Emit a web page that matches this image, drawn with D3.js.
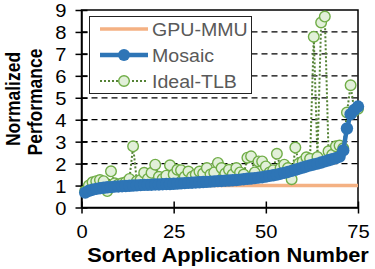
<!DOCTYPE html>
<html>
<head>
<meta charset="utf-8">
<script src="https://cdn.jsdelivr.net/npm/d3@7"></script>
<style>
  body { margin: 0; background: #fff; }
  text { font-family: "Liberation Sans", Arial, sans-serif; }
</style>
</head>
<body>
<div id="plot"></div>
<script>
// sorted application number (1..75)
var appNumbers = [1, 2, 3, 4, 5, 6, 7, 8, 9, 10, 11, 12, 13, 14, 15, 16, 17, 18, 19, 20,
    21, 22, 23, 24, 25, 26, 27, 28, 29, 30, 31, 32, 33, 34, 35, 36, 37, 38, 39, 40,
    41, 42, 43, 44, 45, 46, 47, 48, 49, 50, 51, 52, 53, 54, 55, 56, 57, 58, 59, 60,
    61, 62, 63, 64, 65, 66, 67, 68, 69, 70, 71, 72, 73, 74, 75];

var gpuMmu = [1, 1, 1, 1, 1, 1, 1, 1, 1, 1, 1, 1, 1, 1, 1, 1, 1, 1, 1, 1,
    1, 1, 1, 1, 1, 1, 1, 1, 1, 1, 1, 1, 1, 1, 1, 1, 1, 1, 1, 1,
    1, 1, 1, 1, 1, 1, 1, 1, 1, 1, 1, 1, 1, 1, 1, 1, 1, 1, 1, 1,
    1, 1, 1, 1, 1, 1, 1, 1, 1, 1, 1, 1, 1, 1, 1];

var mosaic = [0.68, 0.76, 0.81, 0.85, 0.88, 0.90, 0.92, 0.93, 0.95, 0.96,
    0.97, 0.98, 0.99, 1.00, 1.01, 1.02, 1.03, 1.03, 1.04, 1.05,
    1.05, 1.06, 1.07, 1.07, 1.08, 1.09, 1.10, 1.11, 1.12, 1.13,
    1.14, 1.15, 1.16, 1.17, 1.18, 1.19, 1.20, 1.21, 1.22, 1.23,
    1.24, 1.25, 1.27, 1.29, 1.31, 1.32, 1.34, 1.36, 1.38, 1.41,
    1.44, 1.47, 1.50, 1.54, 1.58, 1.62, 1.67, 1.72, 1.77, 1.82,
    1.87, 1.92, 1.96, 2.00, 2.05, 2.10, 2.15, 2.20, 2.25, 2.32,
    2.60, 3.60, 4.25, 4.45, 4.60];

var idealTlb = [0.75, 1.00, 1.15, 1.20, 1.25, 1.20, 0.75, 1.65, 1.10, 1.05,
    1.10, 1.15, 1.30, 2.79, 1.20, 1.25, 1.58, 1.30, 1.58, 1.95,
    1.40, 1.30, 1.45, 1.92, 1.50, 1.72, 1.70, 1.40, 1.64, 1.40,
    1.50, 1.64, 1.55, 1.80, 1.50, 1.60, 2.03, 1.80, 1.55, 1.72,
    1.50, 1.80, 1.60, 1.50, 2.27, 2.33, 1.60, 2.10, 2.10, 1.87,
    1.60, 1.70, 2.45, 1.80, 1.95, 1.80, 1.29, 2.73, 2.00, 2.10,
    2.29, 2.22, 7.78, 2.30, 8.43, 8.70, 2.56, 2.40, 2.79, 2.82,
    2.70, 4.33, 5.57, 4.40, 4.50];

var seriesNames = ["GPU-MMU", "Mosaic", "Ideal-TLB"];
var xTicks = [0, 25, 50, 75];
var yTicks = [0, 1, 2, 3, 4, 5, 6, 7, 8, 9];
var gridValues = [1, 2, 3, 4, 5, 6, 7, 8];

var width = 375;
var height = 269;
var plot = { left: 81.5, right: 358, top: 10, bottom: 207.5 };
var stretch = 1.12; // the original picture is a bit wider than tall

var orange = "#f4b183";
var blue = "#2e75b6";
var greenLine = "#548235";
var greenEdge = "#70ad47";
var greenFill = "#e2f0d9";

var svg = d3.select("#plot").append("svg")
    .attr("width", width)
    .attr("height", height);

var x = d3.scaleLinear().domain([0, 75]).range([plot.left, plot.right]);
var y = d3.scaleLinear().domain([0, 9]).range([plot.bottom, plot.top]);

function rows(values) {
    return appNumbers.map(function(n, i) {
        return { x: n, y: values[i] };
    });
}

var line = d3.line()
    .x(function(d) { return x(d.x); })
    .y(function(d) { return y(d.y); });

// dashed grid
svg.append("g")
    .selectAll("line")
    .data(gridValues)
    .enter().append("line")
    .attr("x1", plot.left)
    .attr("x2", plot.right)
    .attr("y1", function(d) { return y(d); })
    .attr("y2", function(d) { return y(d); })
    .attr("stroke", "#000")
    .attr("stroke-width", 1.2)
    .attr("stroke-dasharray", "6,4");

// frame
svg.append("rect")
    .attr("x", plot.left)
    .attr("y", plot.top)
    .attr("width", plot.right - plot.left)
    .attr("height", plot.bottom - plot.top)
    .attr("fill", "none")
    .attr("stroke", "#000")
    .attr("stroke-width", 1.5);

// axes, ticks cross the axis line
var yAxis = svg.append("g")
    .attr("transform", "translate(" + plot.left + ",0)")
    .call(d3.axisLeft(y).tickValues(yTicks).tickSizeOuter(0));
yAxis.select(".domain").attr("stroke-width", 1.5);
yAxis.selectAll(".tick line").attr("x1", 6).attr("x2", -6).attr("stroke-width", 1.5);
yAxis.selectAll(".tick text")
    .attr("x", 0).attr("dy", 0)
    .attr("transform", "translate(-15,6.5) scale(" + stretch + ",1)")
    .attr("font-size", 18)
    .attr("fill", "#000");

var xAxis = svg.append("g")
    .attr("transform", "translate(0," + plot.bottom + ")")
    .call(d3.axisBottom(x).tickValues(xTicks).tickSizeOuter(0));
xAxis.select(".domain").attr("stroke-width", 1.5);
xAxis.selectAll(".tick line").attr("y1", -6).attr("y2", 6).attr("stroke-width", 1.5);
xAxis.selectAll(".tick text")
    .attr("y", 0).attr("dy", 0)
    .attr("transform", "translate(0,30.5) scale(" + stretch + ",1)")
    .attr("font-size", 18)
    .attr("fill", "#000");

// GPU-MMU baseline
svg.append("path")
    .datum(rows(gpuMmu))
    .attr("d", line)
    .attr("fill", "none")
    .attr("stroke", orange)
    .attr("stroke-width", 3.5);

// Ideal-TLB
svg.append("path")
    .datum(rows(idealTlb))
    .attr("d", line)
    .attr("fill", "none")
    .attr("stroke", greenLine)
    .attr("stroke-width", 2)
    .attr("stroke-dasharray", "2,2");

svg.append("g")
    .selectAll("circle")
    .data(rows(idealTlb))
    .enter().append("circle")
    .attr("cx", function(d) { return x(d.x); })
    .attr("cy", function(d) { return y(d.y); })
    .attr("r", 5.3)
    .attr("fill", greenFill)
    .attr("stroke", greenEdge)
    .attr("stroke-width", 1.4);

// Mosaic
svg.append("path")
    .datum(rows(mosaic))
    .attr("d", line)
    .attr("fill", "none")
    .attr("stroke", blue)
    .attr("stroke-width", 4.5);

svg.append("g")
    .selectAll("circle")
    .data(rows(mosaic))
    .enter().append("circle")
    .attr("cx", function(d) { return x(d.x); })
    .attr("cy", function(d) { return y(d.y); })
    .attr("r", 6.2)
    .attr("fill", blue);

// legend
var legend = svg.append("g");
legend.append("rect")
    .attr("x", 89.5)
    .attr("y", 16.5)
    .attr("width", 162)
    .attr("height", 77)
    .attr("fill", "#fff")
    .attr("stroke", "#222")
    .attr("stroke-width", 1);

var entry = legend.selectAll("g.entry")
    .data(seriesNames)
    .enter().append("g")
    .attr("class", "entry")
    .attr("transform", function(d, i) { return "translate(0," + (29 + i * 26) + ")"; });

entry.append("line")
    .attr("x1", 100)
    .attr("x2", 148)
    .attr("stroke", function(d, i) { return [orange, blue, greenLine][i]; })
    .attr("stroke-width", function(d, i) { return [3.5, 4.5, 2][i]; })
    .attr("stroke-dasharray", function(d, i) { return i === 2 ? "2,2" : null; });

entry.filter(function(d, i) { return i > 0; })
    .append("circle")
    .attr("cx", 124)
    .attr("r", function(d, i) { return i === 0 ? 6 : 5.3; })
    .attr("fill", function(d, i) { return i === 0 ? blue : greenFill; })
    .attr("stroke", function(d, i) { return i === 0 ? "none" : greenEdge; })
    .attr("stroke-width", 1.4);

entry.append("text")
    .attr("transform", "translate(152,6.5) scale(" + stretch + ",1)")
    .attr("font-size", 17.5)
    .attr("fill", "#595959")
    .text(function(d) { return d; });

// axis titles
svg.append("text")
    .attr("transform", "translate(228,262) scale(" + stretch + ",1)")
    .attr("text-anchor", "middle")
    .attr("font-size", 19.5)
    .attr("font-weight", "bold")
    .text("Sorted Application Number");

svg.append("text")
    .attr("transform", "translate(20,99) rotate(-90) scale(1," + stretch + ")")
    .attr("text-anchor", "middle")
    .attr("font-size", 17.5)
    .attr("font-weight", "bold")
    .text("Normalized");

svg.append("text")
    .attr("transform", "translate(42,102) rotate(-90) scale(1," + stretch + ")")
    .attr("text-anchor", "middle")
    .attr("font-size", 17.5)
    .attr("font-weight", "bold")
    .text("Performance");
</script>
</body>
</html>
